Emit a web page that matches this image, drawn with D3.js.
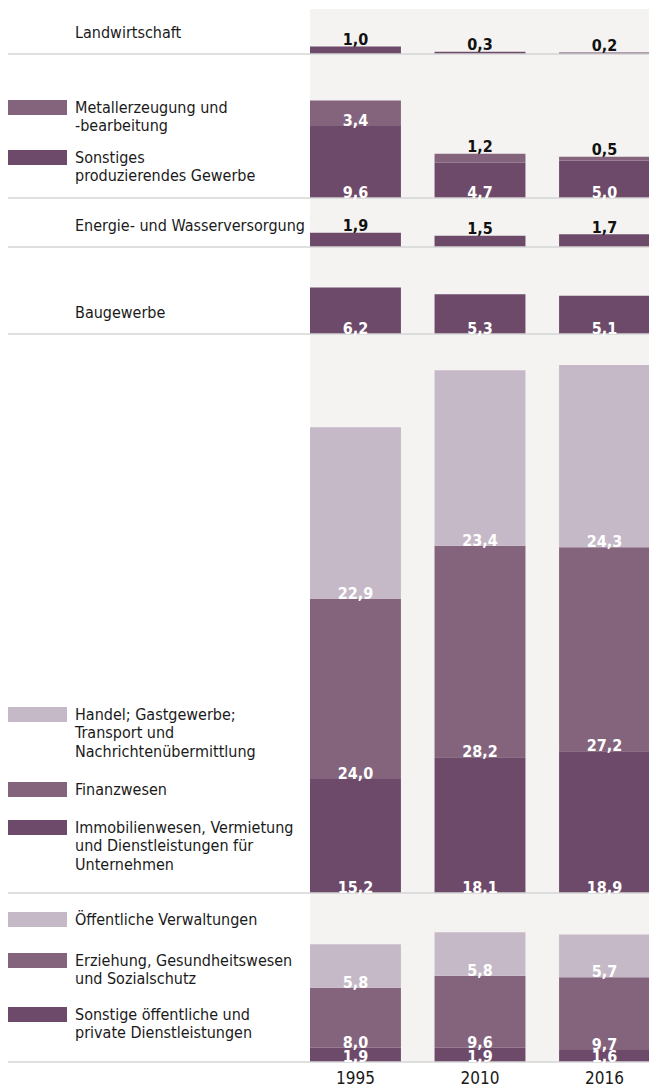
<!DOCTYPE html>
<html>
<head>
<meta charset="utf-8">
<script src="https://cdn.jsdelivr.net/npm/d3@7"></script>
<style>
  body { margin: 0; background: #fff; }
  text { font-family: "DejaVu Sans Condensed", "DejaVu Sans", sans-serif; font-stretch: condensed; }
</style>
</head>
<body>
<svg id="chart" width="649" height="1087"></svg>
<script>
// years on the x axis
var years = ["1995", "2010", "2016"];

// values per sector (bottom segment first within each block)
var landwirtschaft = [1.0, 0.3, 0.2];
var sonstigesGewerbe = [9.6, 4.7, 5.0];
var metall = [3.4, 1.2, 0.5];
var energie = [1.9, 1.5, 1.7];
var bau = [6.2, 5.3, 5.1];
var immobilien = [15.2, 18.1, 18.9];
var finanz = [24.0, 28.2, 27.2];
var handel = [22.9, 23.4, 24.3];
var sonstigeDienste = [1.9, 1.9, 1.6];
var erziehung = [8.0, 9.6, 9.7];
var verwaltung = [5.8, 5.8, 5.7];

// legend names
var names = {
  landwirtschaft: ["Landwirtschaft"],
  metall: ["Metallerzeugung und", "-bearbeitung"],
  sonstigesGewerbe: ["Sonstiges", "produzierendes Gewerbe"],
  energie: ["Energie- und Wasserversorgung"],
  bau: ["Baugewerbe"],
  handel: ["Handel; Gastgewerbe;", "Transport und", "Nachrichtenübermittlung"],
  finanz: ["Finanzwesen"],
  immobilien: ["Immobilienwesen, Vermietung", "und Dienstleistungen für", "Unternehmen"],
  verwaltung: ["Öffentliche Verwaltungen"],
  erziehung: ["Erziehung, Gesundheitswesen", "und Sozialschutz"],
  sonstigeDienste: ["Sonstige öffentliche und", "private Dienstleistungen"]
};

var colors = { dark: "#6e4a6a", mid: "#84637d", light: "#c6b9c7" };

// blocks, bottom to top inside each one
var blocks = [
  [{ key: "landwirtschaft", values: landwirtschaft, shade: "dark", swatch: false }],
  [{ key: "sonstigesGewerbe", values: sonstigesGewerbe, shade: "dark", swatch: true },
   { key: "metall", values: metall, shade: "mid", swatch: true }],
  [{ key: "energie", values: energie, shade: "dark", swatch: false }],
  [{ key: "bau", values: bau, shade: "dark", swatch: false }],
  [{ key: "immobilien", values: immobilien, shade: "dark", swatch: true },
   { key: "finanz", values: finanz, shade: "mid", swatch: true },
   { key: "handel", values: handel, shade: "light", swatch: true }],
  [{ key: "sonstigeDienste", values: sonstigeDienste, shade: "dark", swatch: true },
   { key: "erziehung", values: erziehung, shade: "mid", swatch: true },
   { key: "verwaltung", values: verwaltung, shade: "light", swatch: true }]
];

// layout
var baselines = [54, 198, 247, 334, 893, 1062];
var legendY = {
  landwirtschaft: 32, metall: 107, sonstigesGewerbe: 157, energie: 225, bau: 312,
  handel: 714, finanz: 789, immobilien: 827, verwaltung: 919, erziehung: 960, sonstigeDienste: 1014
};
var lineH = 18.5;

var svg = d3.select("#chart");

var x = d3.scaleBand().domain(years).range([310, 650]).paddingInner(0.27).paddingOuter(0);
var h = d3.scaleLinear().domain([0, 10]).range([0, 75]);

// grey panel behind the bars
svg.append("rect")
  .attr("x", 310).attr("y", 9)
  .attr("width", 339).attr("height", 1062 - 9)
  .attr("fill", "#f4f3f1");

var labels = [];

blocks.forEach(function(block, bi) {
  var base = baselines[bi];
  var cum = years.map(function() { return 0; });
  var g = svg.append("g");
  block.forEach(function(s, si) {
    var top = si === block.length - 1;
    years.forEach(function(yr, i) {
      var v = s.values[i];
      var y0 = base - h(cum[i]);
      var y1 = base - h(cum[i] + v);
      g.append("rect")
        .attr("x", x(yr)).attr("y", y1)
        .attr("width", x.bandwidth()).attr("height", y0 - y1)
        .attr("fill", colors[s.shade]);
      // short top segments get a dark label above the bar
      var outside = top && v < 2;
      labels.push({
        x: x(yr) + x.bandwidth() / 2,
        y: outside ? y1 - 1.5 : y0,
        fill: outside ? "#111" : "#fff",
        text: d3.format(".1f")(v).replace(".", ",")
      });
      cum[i] += v;
    });

    // legend entry
    var ly = legendY[s.key];
    if (s.swatch) {
      svg.append("rect")
        .attr("x", 8).attr("y", ly - 7)
        .attr("width", 59).attr("height", 15)
        .attr("fill", colors[s.shade]);
    }
    var t = svg.append("text")
      .attr("x", 75).attr("y", ly)
      .attr("font-size", 16)
      .attr("fill", "#1a1a1a");
    names[s.key].forEach(function(line, li) {
      t.append("tspan").attr("x", 75).attr("y", ly + li * lineH).attr("dy", "0.35em").text(line);
    });
  });
});

// separators
svg.selectAll("line.sep")
  .data(baselines)
  .enter().append("line")
  .attr("class", "sep")
  .attr("x1", 8).attr("x2", 649)
  .attr("y1", function(d) { return d; })
  .attr("y2", function(d) { return d; })
  .attr("stroke", "#d5d5d5")
  .attr("stroke-width", 1.5);

// value labels
svg.selectAll("text.val")
  .data(labels)
  .enter().append("text")
  .attr("class", "val")
  .attr("x", function(d) { return d.x; })
  .attr("y", function(d) { return d.y; })
  .attr("text-anchor", "middle")
  .attr("font-size", 16)
  .attr("font-weight", "bold")
  .attr("fill", function(d) { return d.fill; })
  .text(function(d) { return d.text; });

// year axis
var xAxis = d3.axisBottom(x).tickSize(0).tickPadding(0);
var ax = svg.append("g").attr("transform", "translate(0,1072)").call(xAxis);
ax.select(".domain").remove();
ax.selectAll("text")
  .attr("font-size", 17)
  .attr("fill", "#1a1a1a")
  .attr("font-family", null);
</script>
</body>
</html>
